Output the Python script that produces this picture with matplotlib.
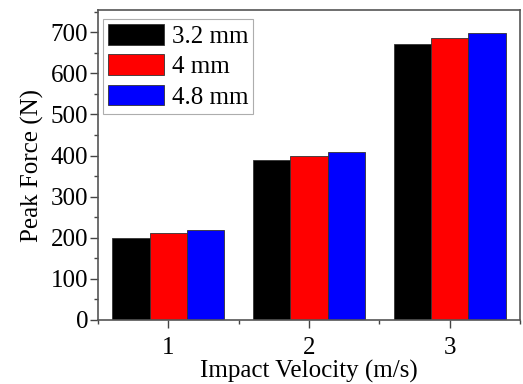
import matplotlib
matplotlib.use("Agg")
import matplotlib.pyplot as plt
import numpy as np
from matplotlib.ticker import MultipleLocator

plt.rcParams['font.family'] = ['Liberation Serif', 'DejaVu Serif']

velocities = [1, 2, 3]
series_labels = ["3.2 mm", "4 mm", "4.8 mm"]
force_32 = [200, 390, 672]
force_40 = [211, 398, 685]
force_48 = [219, 408, 699]
colors = ["#000000", "#ff0000", "#0000ff"]

fig = plt.figure(figsize=(5.23, 3.84), dpi=100)
ax = fig.add_axes([98/523, 1 - 320/384, (520-98)/523, (320-10)/384])

w = 0.265
x = np.array(velocities, dtype=float)
for i, (vals, lab, c) in enumerate(zip([force_32, force_40, force_48], series_labels, colors)):
    ax.bar(x + (i - 1) * w, vals, width=w, color=c, edgecolor="#333333", linewidth=0.6, label=lab)

ax.set_xlim(0.5, 3.5)
ax.set_ylim(0, 754)
ax.set_xticks(velocities)
ax.xaxis.set_minor_locator(MultipleLocator(0.5))
ax.yaxis.set_major_locator(MultipleLocator(100))
ax.yaxis.set_minor_locator(MultipleLocator(50))
ax.tick_params(axis='both', which='major', labelsize=18, direction='out', length=6, width=1, color="#444444")
ax.tick_params(axis='y', which='major', pad=1)
ax.tick_params(axis='x', which='major', pad=6)
ax.tick_params(axis='both', which='minor', direction='out', length=3, width=1, color="#444444")
for s in ax.spines.values():
    s.set_color("#555555")
    s.set_linewidth(1.2)

ax.set_xlabel("Impact Velocity (m/s)", fontsize=18, labelpad=1)
ax.set_ylabel("Peak Force (N)", fontsize=18, labelpad=5)

leg = ax.legend(loc="upper left", bbox_to_anchor=(0.0, 1 - 4/310), fontsize=18, frameon=True, fancybox=False,
                edgecolor="#999999", handlelength=2.25, handleheight=0.9,
                borderpad=0.2, labelspacing=0.25, handletextpad=0.3,
                borderaxespad=0.2)
leg.get_frame().set_linewidth(0.8)

fig.savefig("out.png", dpi=100)
